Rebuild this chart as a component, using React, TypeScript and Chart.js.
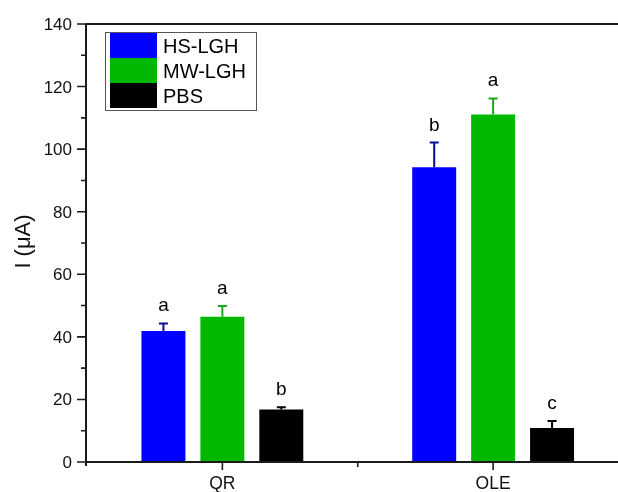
import React, { useEffect, useRef } from "react";
import { Chart, registerables } from "chart.js";

Chart.register(...registerables);

const categories = ["QR", "OLE"];
const seriesNames = ["HS-LGH", "MW-LGH", "PBS"];
const hsValues = [41.9, 94.2];
const mwValues = [46.4, 111.1];
const pbsValues = [16.8, 10.9];
const hsErrors = [2.4, 7.9];
const mwErrors = [3.5, 5.1];
const pbsErrors = [0.7, 2.2];
const hsLetters = ["a", "b"];
const mwLetters = ["a", "a"];
const pbsLetters = ["b", "c"];
const yTicks = [0, 20, 40, 60, 80, 100, 120, 140];
const yMinorTicks = [10, 30, 50, 70, 90, 110, 130];
const yTitle = "I (\u03bcA)";

const FONT = "'Liberation Sans', Arial, sans-serif";

const errorsBySeries = [hsErrors, mwErrors, pbsErrors];
const lettersBySeries = [hsLetters, mwLetters, pbsLetters];
const errorColors = ["#0a0a9a", "#1aa81a", "#000000"];

const decorPlugin = {
  id: "decor",
  afterDatasetsDraw(chart: any) {
    const ctx = chart.ctx;
    const y = chart.scales.y;
    chart.data.datasets.forEach((ds: any, i: number) => {
      const meta = chart.getDatasetMeta(i);
      meta.data.forEach((bar: any, j: number) => {
        const v = ds.data[j];
        const e = errorsBySeries[i][j];
        const top = y.getPixelForValue(v + e);
        const base = y.getPixelForValue(v);
        ctx.save();
        ctx.strokeStyle = errorColors[i];
        ctx.lineWidth = 2;
        ctx.beginPath();
        ctx.moveTo(bar.x, base);
        ctx.lineTo(bar.x, top);
        ctx.moveTo(bar.x - 4.5, top);
        ctx.lineTo(bar.x + 4.5, top);
        ctx.stroke();
        ctx.fillStyle = "#000";
        ctx.font = `19px ${FONT}`;
        ctx.textAlign = "center";
        ctx.textBaseline = "alphabetic";
        ctx.fillText(lettersBySeries[i][j], bar.x, top - 12);
        ctx.restore();
      });
    });
  },
  afterDraw(chart: any) {
    const ctx = chart.ctx;
    const { left, top, bottom } = chart.chartArea;
    const y = chart.scales.y;
    const x = chart.scales.x;
    ctx.save();
    ctx.strokeStyle = "#1a1a1a";
    ctx.lineWidth = 2;
    ctx.beginPath();
    ctx.moveTo(left - 1, top);
    ctx.lineTo(chart.width, top);
    ctx.moveTo(left - 1, top);
    ctx.lineTo(left - 1, bottom + 4);
    ctx.moveTo(left - 1, bottom);
    ctx.lineTo(chart.width, bottom);
    ctx.stroke();

    ctx.lineWidth = 1.6;
    ctx.beginPath();
    yTicks.forEach((t) => {
      const py = y.getPixelForValue(t);
      ctx.moveTo(left - 10, py);
      ctx.lineTo(left - 1, py);
    });
    yMinorTicks.forEach((t) => {
      const py = y.getPixelForValue(t);
      ctx.moveTo(left - 6, py);
      ctx.lineTo(left - 1, py);
    });
    categories.forEach((_c, k) => {
      const px = x.getPixelForValue(k);
      ctx.moveTo(px, bottom);
      ctx.lineTo(px, bottom + 8);
    });
    const mid = (x.getPixelForValue(0) + x.getPixelForValue(1)) / 2;
    ctx.moveTo(mid, bottom);
    ctx.lineTo(mid, bottom + 5);
    ctx.stroke();

    ctx.fillStyle = "#111";
    ctx.font = `17px ${FONT}`;
    ctx.textAlign = "right";
    ctx.textBaseline = "alphabetic";
    yTicks.forEach((t) => {
      const py = y.getPixelForValue(t);
      ctx.fillText(String(t), left - 15, py + 6);
    });
    ctx.font = `17.5px ${FONT}`;
    ctx.textAlign = "center";
    categories.forEach((c, k) => {
      const px = x.getPixelForValue(k);
      ctx.fillText(c, px, bottom + 27);
    });

    ctx.save();
    ctx.translate(30, 241.5);
    ctx.rotate(-Math.PI / 2);
    ctx.font = `22px ${FONT}`;
    ctx.textAlign = "center";
    ctx.textBaseline = "alphabetic";
    ctx.fillText(yTitle, 0, 0);
    ctx.restore();

    const lx = 105, ly = 32, lw = 151, lh = 78;
    ctx.fillStyle = "#fff";
    ctx.fillRect(lx, ly, lw, lh);
    ctx.strokeStyle = "#555";
    ctx.lineWidth = 1;
    ctx.strokeRect(lx + 0.5, ly + 0.5, lw, lh);
    chart.data.datasets.forEach((ds: any, i: number) => {
      const ry = ly + 1 + i * 25;
      ctx.fillStyle = ds.backgroundColor;
      ctx.fillRect(lx + 5, ry, 47, 25);
      ctx.fillStyle = "#000";
      ctx.font = `20px ${FONT}`;
      ctx.textAlign = "left";
      ctx.textBaseline = "alphabetic";
      ctx.fillText(ds.label, lx + 58, ry + 19.5);
    });
    ctx.restore();
  },
};

export default function App() {
  const ref = useRef<HTMLCanvasElement>(null);
  useEffect(() => {
    if (!ref.current) return;
    const chart = new Chart(ref.current, {
      type: "bar",
      data: {
        labels: categories,
        datasets: [
          { label: seriesNames[0], data: hsValues, backgroundColor: "#0000ff" },
          { label: seriesNames[1], data: mwValues, backgroundColor: "#00b800" },
          { label: seriesNames[2], data: pbsValues, backgroundColor: "#000000" },
        ],
      },
      options: {
        responsive: false,
        animation: false,
        devicePixelRatio: 1,
        layout: { padding: { left: 87, top: 24, bottom: 30, right: 11.5 } },
        datasets: {
          bar: { categoryPercentage: 0.653, barPercentage: 0.746, borderWidth: 0 },
        },
        scales: {
          x: { display: false, offset: true },
          y: { display: false, min: 0, max: 140 },
        },
        plugins: { legend: { display: false }, tooltip: { enabled: false } },
      },
      plugins: [decorPlugin],
    } as any);
    return () => chart.destroy();
  }, []);
  return (
    <div
      style={{
        position: "fixed",
        left: 0,
        top: 0,
        width: 618,
        height: 492,
        overflow: "hidden",
        background: "#fff",
      }}
    >
      <canvas ref={ref} width={640} height={492} style={{ display: "block" }} />
    </div>
  );
}
